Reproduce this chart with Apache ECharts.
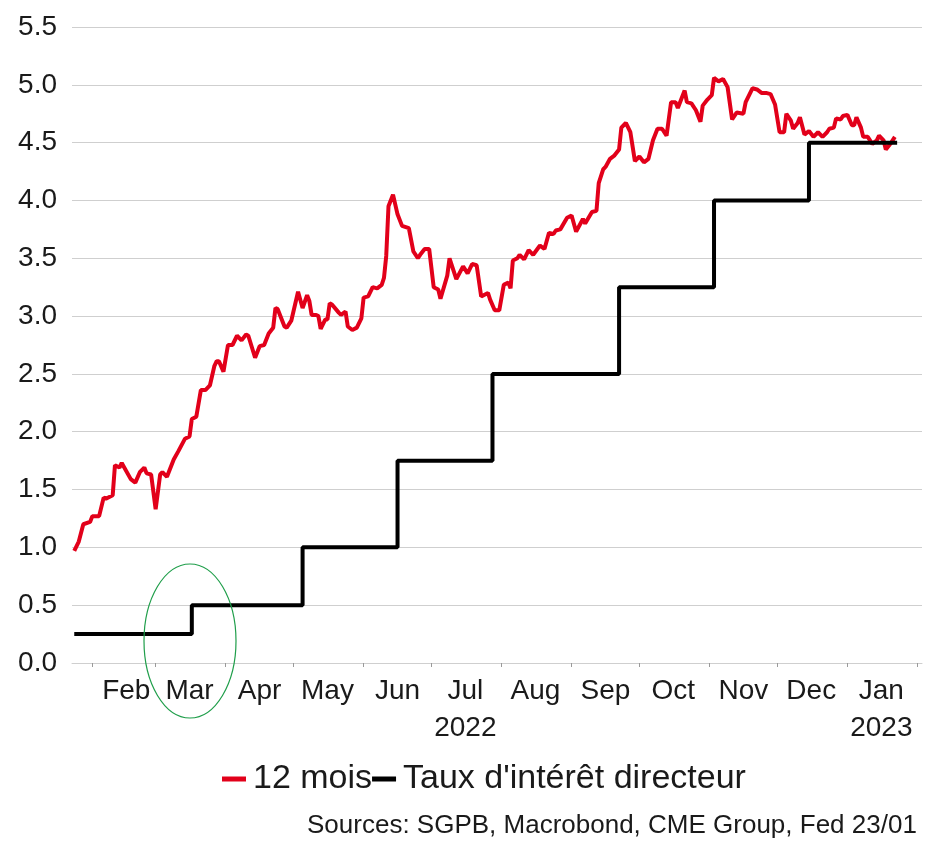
<!DOCTYPE html>
<html>
<head>
<meta charset="utf-8">
<script src="https://cdn.jsdelivr.net/npm/echarts@6/dist/echarts.min.js"></script>
<style>
  html, body { margin: 0; padding: 0; background: #fff; overflow: hidden; }
  #rateChart { width: 926px; height: 841px; }
</style>
</head>
<body>
<div id="rateChart"></div>
<script>
  // 12 mois (taux anticipé)
  const yieldDates = [
    '2022-01-24','2022-01-26','2022-01-28','2022-01-31','2022-02-01','2022-02-04','2022-02-06','2022-02-07',
    '2022-02-10','2022-02-11','2022-02-13','2022-02-14','2022-02-18','2022-02-20','2022-02-22','2022-02-24',
    '2022-02-25','2022-02-27','2022-03-01','2022-03-03','2022-03-04','2022-03-06','2022-03-09','2022-03-11',
    '2022-03-14','2022-03-16','2022-03-17','2022-03-19','2022-03-21','2022-03-23','2022-03-25','2022-03-27',
    '2022-03-28','2022-03-29','2022-03-31','2022-04-02','2022-04-04','2022-04-06','2022-04-08','2022-04-10',
    '2022-04-11','2022-04-14','2022-04-16','2022-04-18','2022-04-20','2022-04-22','2022-04-23','2022-04-24',
    '2022-04-27','2022-04-28','2022-04-30','2022-05-03','2022-05-05','2022-05-07','2022-05-08','2022-05-09',
    '2022-05-11','2022-05-12','2022-05-13','2022-05-15','2022-05-16','2022-05-17','2022-05-18','2022-05-21',
    '2022-05-22','2022-05-24','2022-05-25','2022-05-27','2022-05-29','2022-05-31','2022-06-01','2022-06-03',
    '2022-06-05','2022-06-07','2022-06-09','2022-06-10','2022-06-11','2022-06-12','2022-06-14','2022-06-16',
    '2022-06-18','2022-06-21','2022-06-23','2022-06-25','2022-06-26','2022-06-28','2022-06-30','2022-07-02',
    '2022-07-04','2022-07-05','2022-07-08','2022-07-09','2022-07-12','2022-07-15','2022-07-17','2022-07-19',
    '2022-07-21','2022-07-23','2022-07-26','2022-07-27','2022-07-29','2022-07-31','2022-08-02','2022-08-04',
    '2022-08-05','2022-08-06','2022-08-08','2022-08-09','2022-08-11','2022-08-13','2022-08-15','2022-08-18',
    '2022-08-20','2022-08-22','2022-08-24','2022-08-25','2022-08-27','2022-08-30','2022-09-01','2022-09-03',
    '2022-09-06','2022-09-07','2022-09-10','2022-09-12','2022-09-13','2022-09-15','2022-09-16','2022-09-18',
    '2022-09-20','2022-09-22','2022-09-23','2022-09-25','2022-09-27','2022-09-29','2022-10-01','2022-10-03',
    '2022-10-05','2022-10-07','2022-10-09','2022-10-11','2022-10-13','2022-10-15','2022-10-17','2022-10-18',
    '2022-10-21','2022-10-22','2022-10-24','2022-10-26','2022-10-28','2022-10-29','2022-10-31','2022-11-02',
    '2022-11-03','2022-11-05','2022-11-07','2022-11-09','2022-11-11','2022-11-13','2022-11-16','2022-11-17',
    '2022-11-20','2022-11-22','2022-11-24','2022-11-26','2022-11-28','2022-11-30','2022-12-02','2022-12-04',
    '2022-12-05','2022-12-07','2022-12-08','2022-12-10','2022-12-11','2022-12-13','2022-12-15','2022-12-17',
    '2022-12-19','2022-12-21','2022-12-23','2022-12-24','2022-12-26','2022-12-27','2022-12-29','2022-12-30',
    '2023-01-01','2023-01-03','2023-01-04','2023-01-05','2023-01-07','2023-01-08','2023-01-10','2023-01-12',
    '2023-01-14','2023-01-15','2023-01-17','2023-01-18','2023-01-20','2023-01-22'
  ];
  const yieldValues = [
    0.97, 1.05, 1.20, 1.22, 1.27, 1.27, 1.43, 1.42,
    1.45, 1.71, 1.69, 1.73, 1.59, 1.56, 1.65, 1.69,
    1.64, 1.63, 1.33, 1.63, 1.65, 1.61, 1.76, 1.83,
    1.94, 1.96, 2.11, 2.13, 2.36, 2.36, 2.40, 2.57,
    2.61, 2.61, 2.52, 2.75, 2.75, 2.83, 2.79, 2.84,
    2.83, 2.64, 2.74, 2.75, 2.85, 2.90, 3.07, 3.06,
    2.91, 2.90, 2.96, 3.21, 3.07, 3.18, 3.13, 3.01,
    3.01, 3.00, 2.89, 2.97, 2.97, 3.11, 3.10, 3.03,
    3.01, 3.04, 2.91, 2.88, 2.90, 2.98, 3.16, 3.17,
    3.25, 3.24, 3.27, 3.33, 3.52, 3.95, 4.05, 3.88,
    3.78, 3.76, 3.56, 3.50, 3.53, 3.58, 3.58, 3.25,
    3.23, 3.15, 3.35, 3.50, 3.32, 3.43, 3.37, 3.45,
    3.44, 3.17, 3.20, 3.14, 3.05, 3.05, 3.27, 3.29,
    3.24, 3.48, 3.50, 3.53, 3.49, 3.57, 3.53, 3.61,
    3.58, 3.72, 3.71, 3.74, 3.75, 3.85, 3.87, 3.73,
    3.84, 3.80, 3.90, 3.91, 4.15, 4.27, 4.29, 4.36,
    4.39, 4.44, 4.63, 4.67, 4.59, 4.34, 4.38, 4.33,
    4.36, 4.52, 4.62, 4.62, 4.56, 4.85, 4.85, 4.80,
    4.95, 4.85, 4.84, 4.78, 4.68, 4.82, 4.87, 4.91,
    5.06, 5.03, 5.05, 4.98, 4.70, 4.76, 4.75, 4.85,
    4.97, 4.96, 4.93, 4.93, 4.92, 4.83, 4.59, 4.59,
    4.75, 4.69, 4.62, 4.67, 4.72, 4.57, 4.60, 4.55,
    4.59, 4.55, 4.59, 4.62, 4.63, 4.71, 4.70, 4.73,
    4.74, 4.65, 4.65, 4.72, 4.63, 4.55, 4.55, 4.49,
    4.52, 4.56, 4.52, 4.44, 4.49, 4.55
  ];

  // taux directeur de la Fed (borne haute), date d'effet de chaque hausse
  const policyDates  = ['2022-01-24','2022-03-17','2022-05-05','2022-06-16','2022-07-28','2022-09-22','2022-11-03','2022-12-15','2023-01-23'];
  const policyValues = [0.25, 0.5, 1.0, 1.75, 2.5, 3.25, 4.0, 4.5, 4.5];

  const monthNames = ['Jan','Feb','Mar','Apr','May','Jun','Jul','Aug','Sep','Oct','Nov','Dec'];
  const axisStart = '2022-01-23';
  const axisEnd = '2023-02-03';

  // une catégorie par jour, pour placer les graduations au 1er du mois
  function buildDays(from, to) {
    const out = [];
    let t = Date.parse(from + 'T00:00:00Z');
    const end = Date.parse(to + 'T00:00:00Z');
    while (t <= end) {
      out.push(new Date(t).toISOString().slice(0, 10));
      t += 86400000;
    }
    return out;
  }
  const days = buildDays(axisStart, axisEnd);

  function monthLabel(value) {
    const m = monthNames[parseInt(value.slice(5, 7), 10) - 1];
    if (value.slice(0, 7) === '2022-07') return m + '\n2022';
    if (value.slice(0, 7) === '2023-01') return m + '\n2023';
    return m;
  }

  const font = 'Liberation Sans, Arial, Helvetica, sans-serif';
  const chart = echarts.init(document.getElementById('rateChart'));

  chart.setOption({
    animation: false,
    backgroundColor: '#fff',
    title: {
      text: 'Sources: SGPB, Macrobond, CME Group, Fed 23/01',
      left: 307,
      top: 813,
      padding: 0,
      textStyle: { fontFamily: font, fontSize: 26, fontWeight: 'normal', color: '#1a1a1a' }
    },
    legend: {
      left: 222,
      top: 762,
      padding: 0,
      itemGap: 0,
      itemWidth: 24,
      itemHeight: 5,
      icon: 'rect',
      textStyle: { fontFamily: font, fontSize: 34, color: '#1a1a1a', padding: [0, 0, 0, 2] }
    },
    grid: { left: 72, right: 4, top: 27, bottom: 178 },
    xAxis: {
      type: 'category',
      data: days,
      boundaryGap: false,
      axisLine: { show: true, lineStyle: { color: '#cfcfcf', width: 1 } },
      axisTick: {
        show: true,
        length: 4,
        lineStyle: { color: '#9a9a9a' },
        interval: function (i, v) { return v.slice(8) === '01'; }
      },
      axisLabel: {
        interval: function (i, v) { return v.slice(8) === '16'; },
        formatter: monthLabel,
        margin: 10,
        lineHeight: 37,
        fontFamily: font,
        fontSize: 28,
        color: '#1a1a1a'
      },
      splitLine: { show: false }
    },
    yAxis: {
      type: 'value',
      min: 0,
      max: 5.5,
      interval: 0.5,
      axisLine: { show: false },
      axisTick: { show: false },
      axisLabel: {
        margin: 15,
        fontFamily: font,
        fontSize: 28,
        color: '#1a1a1a',
        formatter: function (v) { return v.toFixed(1); }
      },
      splitLine: { lineStyle: { color: '#cfcfcf', width: 1 } }
    },
    series: [
      {
        name: '12 mois',
        type: 'line',
        data: yieldDates.map((d, i) => [d, yieldValues[i]]),
        showSymbol: false,
        color: '#e2001a',
        lineStyle: { color: '#e2001a', width: 4 }
      },
      {
        name: "Taux d'intérêt directeur",
        type: 'line',
        step: 'end',
        data: policyDates.map((d, i) => [d, policyValues[i]]),
        showSymbol: false,
        color: '#000',
        lineStyle: { color: '#000', width: 4 }
      }
    ],
    // cercle vert autour de la première hausse
    graphic: [{
      type: 'ellipse',
      shape: { cx: 190, cy: 641, rx: 46, ry: 77 },
      style: { fill: 'none', stroke: '#1f9e4a', lineWidth: 1.2 },
      z: 100
    }]
  });
</script>
</body>
</html>
